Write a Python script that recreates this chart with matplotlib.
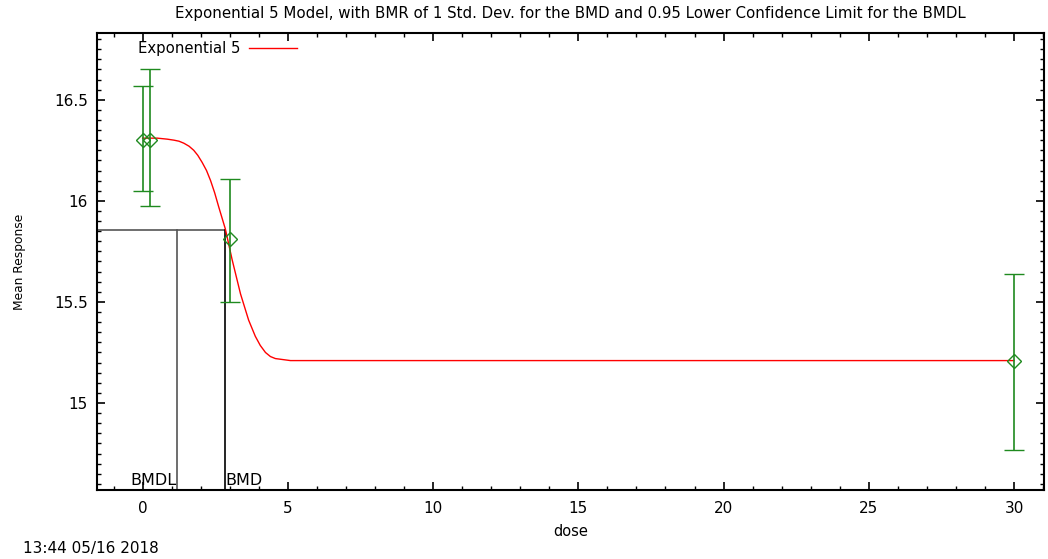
import matplotlib
matplotlib.use('Agg')
import matplotlib.pyplot as plt
from matplotlib.ticker import MultipleLocator

plt.rcParams['font.family'] = ['DejaVu Sans']

# observed groups
dose = [0, 0.27, 3, 30]
mean_resp = [16.30, 16.30, 15.81, 15.21]
err_low = [16.05, 15.975, 15.50, 14.77]
err_high = [16.57, 16.65, 16.11, 15.64]

# fitted curve
curve_dose = [0, 0.51, 0.85, 1.08, 1.25, 1.42, 1.6, 1.76, 1.9, 2.05, 2.2, 2.34, 2.48,
              2.62, 2.85, 3.08, 3.37, 3.65, 3.88, 4.05, 4.23, 4.4, 4.57, 5.09, 10, 20, 30]
curve_resp = [16.31, 16.31, 16.305, 16.30, 16.295, 16.285, 16.27, 16.25, 16.225, 16.19,
              16.15, 16.10, 16.04, 15.97, 15.86, 15.71, 15.54, 15.41, 15.33, 15.285,
              15.25, 15.23, 15.22, 15.21, 15.21, 15.21, 15.21]

bmr_level = 15.855
bmd = 2.85
bmdl = 1.17

fig = plt.figure(figsize=(10.48, 5.59), dpi=100)
ax = fig.add_axes([97/1048, 1-490/559, (1044-97)/1048, (490-33)/559])

xmin, xmax = -1.57, 31.03
ymin, ymax = 14.57, 16.83

ax.plot(curve_dose, curve_resp, color='red', lw=1.0, label='Exponential 5', zorder=3)

yerr = [[m - lo for m, lo in zip(mean_resp, err_low)],
        [hi - m for m, hi in zip(mean_resp, err_high)]]
ax.errorbar(dose, mean_resp, yerr=yerr, fmt='D', color='#1f8a1f', mfc='none',
            mec='#1f8a1f', ms=7, mew=1.0, capsize=7.5, elinewidth=1.2,
            capthick=1.2, zorder=4)

# BMD / BMDL lines
ax.plot([xmin, bmd], [bmr_level, bmr_level], color='#555555', lw=1.2, zorder=2)
ax.plot([bmd, bmd], [ymin, bmr_level], color='black', lw=1.2, zorder=2)
ax.plot([bmdl, bmdl], [ymin, bmr_level], color='#555555', lw=1.2, zorder=2)
ax.text(bmdl, ymin + 0.012, 'BMDL', ha='right', va='bottom', fontsize=11.5)
ax.text(bmd, ymin + 0.012, 'BMD', ha='left', va='bottom', fontsize=11.5)

ax.set_xlim(xmin, xmax)
ax.set_ylim(ymin, ymax)
ax.xaxis.set_major_locator(MultipleLocator(5))
ax.xaxis.set_minor_locator(MultipleLocator(1))
ax.yaxis.set_major_locator(MultipleLocator(0.5))
ax.yaxis.set_minor_locator(MultipleLocator(0.05))
ax.set_yticks([15, 15.5, 16, 16.5])
ax.set_yticklabels(['15', '15.5', '16', '16.5'])
ax.tick_params(which='both', direction='in', top=True, right=True, labelsize=11)
ax.tick_params(which='major', length=6, width=1.2)
ax.tick_params(which='minor', length=3, width=1.0)
ax.tick_params(axis='x', pad=8)
ax.tick_params(axis='y', pad=6.5)
for s in ax.spines.values():
    s.set_linewidth(1.5)

ax.set_xlabel('dose', fontsize=10.5, labelpad=5.5)
ax.set_ylabel('Mean Response', fontsize=8.8, labelpad=20)
ax.set_title('Exponential 5 Model, with BMR of 1 Std. Dev. for the BMD and 0.95 Lower Confidence Limit for the BMDL',
             fontsize=10.8, pad=11)

leg = ax.legend(loc='upper left', bbox_to_anchor=(0.029, 1.012), frameon=False,
                fontsize=10.7, markerfirst=False, handlelength=3.2, handletextpad=0.6)

fig.text(23/1048, 1-548/559, '13:44 05/16 2018', fontsize=11, va='center', ha='left')

fig.savefig('out.png', dpi=100)
